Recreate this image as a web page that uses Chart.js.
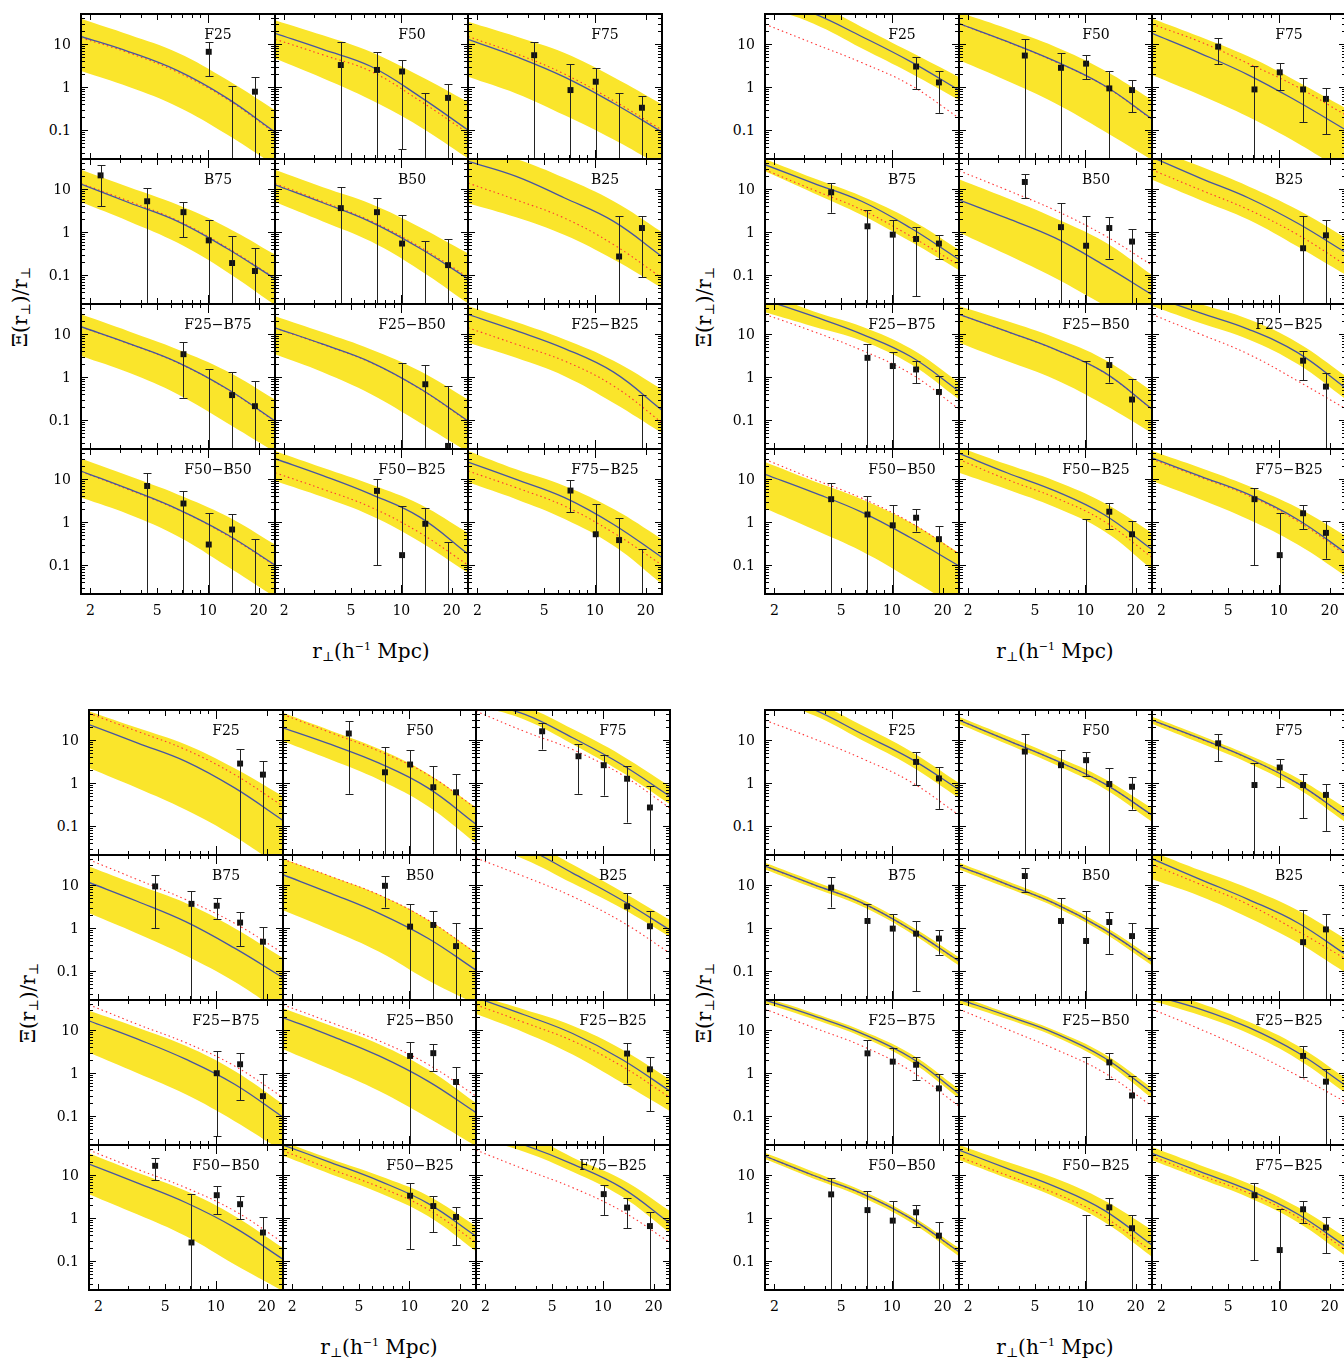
<!DOCTYPE html>
<html>
<head>
<meta charset="utf-8">
<script src="https://cdn.jsdelivr.net/npm/chart.js@4.4.1/dist/chart.umd.min.js"></script>
<style>
    body { margin: 0; background: #fff; width: 1344px; height: 1358px; overflow: hidden; position: relative; font-family: "DejaVu Serif", serif; color: #000; }
    canvas { position: absolute; }
    .moldura { position: absolute; border: 1px solid #000; box-sizing: content-box; pointer-events: none; }
    .tick { position: absolute; font-size: 14px; line-height: 14px; white-space: nowrap; }
    .titulo { position: absolute; font-size: 20px; line-height: 22px; white-space: nowrap; }
    .titulo sub { font-size: 65%; vertical-align: -3px; }
    .titulo sup { font-size: 55%; vertical-align: 8px; }
</style>
</head>
<body>
<script>
//*******DADOS*******
// x onde as curvas foram lidas (borda esquerda ... borda direita do painel)
var XS = [1.76, 3.4, 6.6, 12.9, 25];
var PAINEIS = ['F25', 'F50', 'F75', 'B75', 'B50', 'B25', 'F25\u2212B75', 'F25\u2212B50', 'F25\u2212B25', 'F50\u2212B50', 'F50\u2212B25', 'F75\u2212B25'];
var Y_TICKS = [0.1, 1, 10];
var Y_TICK_LABELS = ['0.1', '1', '10'];
var X_TICKS = [2, 5, 10, 20];
var X_TICK_LABELS = ['2', '5', '10', '20'];
var LO = 0.001; // barra de erro que passa do fundo do painel

// bloco superior esquerdo
var tlLinha = [
    [15, 6.6, 2.4, 0.56, 0.09], [17.7, 7.5, 3.0, 0.6, 0.1], [12.9, 5.1, 1.7, 0.42, 0.09],
    [13.1, 4.8, 1.77, 0.42, 0.082], [12.6, 4.8, 1.7, 0.42, 0.082], [44, 19.7, 6.2, 1.77, 0.27],
    [14.8, 6.0, 2.2, 0.54, 0.095], [14, 5.8, 2.2, 0.54, 0.095], [28.7, 12, 4.6, 1.3, 0.17],
    [15.4, 5.8, 2.0, 0.52, 0.1], [29.7, 12, 4.4, 1.3, 0.18], [24.8, 9.8, 3.7, 0.88, 0.15]
];
var tlPontilhado = [
    [14, 6.2, 2.2, 0.53, 0.085], [13, 5.6, 2.3, 0.48, 0.085], [15, 6, 2.0, 0.48, 0.1],
    [13.5, 5.2, 1.85, 0.44, 0.085], [13.5, 5.1, 1.8, 0.45, 0.09], [13.8, 5.6, 2.1, 0.51, 0.085],
    [14.6, 5.9, 2.15, 0.53, 0.093], [13.8, 5.7, 2.15, 0.53, 0.093], [14, 5.8, 2.35, 0.62, 0.087],
    [15, 5.6, 1.95, 0.5, 0.097], [14, 5.8, 2.2, 0.56, 0.1], [15.4, 6.3, 2.35, 0.56, 0.1]
];
var tlSuperior = [
    [39, 16.5, 6.3, 1.5, 0.29], [36, 16, 6.5, 1.8, 0.45], [33, 15, 6.2, 1.7, 0.4],
    [28, 11, 4.3, 1.3, 0.3], [28, 11, 4.5, 1.3, 0.32], [100, 50, 18, 5.2, 1.0],
    [28.7, 11.5, 4.4, 1.38, 0.3], [26, 11, 4.4, 1.38, 0.3], [45, 19, 7.5, 2.4, 0.52],
    [30, 11.7, 4.4, 1.38, 0.3], [45, 18.3, 7.5, 2.6, 0.56], [45, 16.8, 6.9, 2.0, 0.4]
];
var tlInferior = [
    [2.35, 1.0, 0.35, 0.08, 0.015], [4.6, 1.6, 0.5, 0.12, 0.022], [1.74, 0.71, 0.22, 0.06, 0.014],
    [5.0, 1.77, 0.56, 0.12, 0.02], [5.0, 1.77, 0.6, 0.13, 0.022], [4.7, 2.2, 0.85, 0.23, 0.05],
    [3.1, 1.26, 0.4, 0.087, 0.018], [3.4, 1.3, 0.4, 0.087, 0.018], [6.3, 2.8, 1.05, 0.25, 0.05],
    [3.7, 1.5, 0.47, 0.095, 0.018], [9, 3.8, 1.4, 0.35, 0.066], [8.4, 3.4, 1.17, 0.28, 0.036]
];
// [x, y, erro inferior, erro superior]; y nulo = ponto abaixo do painel
var tlPontos = [
    [[10.1, 6.6, 1.8, 11], [13.9, null, LO, 1.05], [19, 0.78, LO, 1.74]],
    [[4.35, 3.25, LO, 11.3], [7.15, 2.5, LO, 6.4], [10.1, 2.3, 0.036, 4.25], [13.9, null, LO, 0.71], [19, 0.56, LO, 1.17]],
    [[4.35, 5.5, LO, 11.3], [7.15, 0.85, LO, 3.4], [10.1, 1.33, LO, 2.7], [13.9, null, LO, 0.74], [19, 0.33, LO, 0.63]],
    [[2.3, 20.8, 4.0, 36.8], [4.35, 5.2, LO, 10.5], [7.15, 2.9, 0.75, 5.0], [10.1, 0.64, LO, 1.94], [13.9, 0.19, LO, 0.8], [19, 0.124, LO, 0.42]],
    [[4.35, 3.6, LO, 11.1], [7.15, 2.9, LO, 6.2], [10.1, 0.54, LO, 2.5], [13.9, null, LO, 0.63], [19, 0.17, LO, 0.69]],
    [[13.9, 0.27, LO, 2.4], [19, 1.24, 0.088, 2.3]],
    [[7.15, 3.4, 0.33, 6.5], [10.1, null, LO, 1.56], [13.9, 0.38, LO, 1.3], [19, 0.21, LO, 0.8]],
    [[10.1, null, LO, 2.1], [13.9, 0.68, LO, 1.9], [19, 0.025, LO, 0.62]],
    [[19, null, LO, 0.38]],
    [[4.35, 6.9, LO, 14], [7.15, 2.7, LO, 5.4], [10.1, 0.3, LO, 1.65], [13.9, 0.67, LO, 1.5], [19, null, LO, 0.41]],
    [[7.15, 5.3, 0.1, 9.8], [10.1, 0.17, LO, 2.35], [13.9, 0.91, LO, 2.1], [19, null, LO, 0.34]],
    [[7.15, 5.4, 1.7, 9.5], [10.1, 0.52, LO, 2.6], [13.9, 0.38, LO, 1.26], [19, null, LO, 0.24]]
];

// bloco superior direito
var trLinha = [
    [120, 52, 15, 3.9, 0.85], [30, 11.5, 4.0, 1.1, 0.18], [17.7, 6.1, 1.9, 0.46, 0.1],
    [36.8, 13.8, 5.2, 1.24, 0.23], [5.6, 2.1, 0.73, 0.17, 0.035], [55, 18, 6.2, 1.6, 0.33],
    [62, 26, 10.0, 3.0, 0.47], [28.7, 11.5, 4.4, 1.3, 0.18], [75, 31, 12.9, 3.7, 0.55],
    [12.9, 4.9, 1.7, 0.43, 0.095], [39.5, 14, 5.3, 1.5, 0.23], [31, 11.7, 4.4, 1.15, 0.19]
];
var trPontilhado = [
    [29, 10.4, 3.7, 1.1, 0.19], [29.5, 11.3, 3.9, 1.08, 0.175], [29, 11.3, 3.5, 1.0, 0.22],
    [28, 9.6, 3.3, 0.8, 0.17], [26.7, 9.5, 3.2, 0.85, 0.17], [28, 9.6, 3.3, 0.87, 0.17],
    [28.7, 11.5, 4.2, 1.2, 0.18], [28.5, 11.4, 4.35, 1.28, 0.178], [28.7, 10, 3.4, 0.81, 0.18],
    [28.7, 10, 3.6, 0.97, 0.18], [28.7, 9.8, 3.7, 1.05, 0.15], [29, 11, 4.1, 1.05, 0.17]
];
var trSuperior = [
    [230, 95, 25, 6.5, 1.7], [55, 23, 8.7, 2.5, 0.5], [39.5, 14.8, 5.1, 1.33, 0.32],
    [50, 18, 6.8, 1.94, 0.39], [17, 6.2, 2.1, 0.6, 0.1], [90, 33.7, 11.5, 3.3, 0.73],
    [95, 34, 15, 4.6, 0.75], [45, 20, 8.2, 2.6, 0.47], [110, 50, 22, 6.3, 1.05],
    [24.8, 9.0, 3.4, 0.97, 0.19], [55, 22, 9.0, 2.8, 0.56], [45, 18.4, 6.9, 2.15, 0.47]
];
var trInferior = [
    [75, 30, 8, 2.1, 0.5], [4.25, 1.4, 0.42, 0.095, 0.02], [1.9, 0.65, 0.2, 0.049, 0.01],
    [25.8, 8.1, 2.5, 0.6, 0.13], [0.98, 0.3, 0.085, 0.02, 0.005], [16.5, 5.6, 1.94, 0.46, 0.1],
    [32, 15, 7, 2.0, 0.3], [6.3, 2.35, 0.88, 0.23, 0.05], [45, 18, 7.5, 2.0, 0.3],
    [2.1, 0.68, 0.21, 0.047, 0.01], [14, 5.8, 2.2, 0.62, 0.08], [9.0, 3.4, 1.15, 0.3, 0.055]
];
var trPontos = [
    [[13.9, 3.0, 0.9, 5.1], [19, 1.28, 0.25, 2.3]],
    [[4.35, 5.4, LO, 13], [7.15, 2.8, LO, 6.1], [10.1, 3.5, 1.5, 5.5], [13.9, 0.93, LO, 2.3], [19, 0.85, 0.26, 1.45]],
    [[4.35, 8.7, 3.4, 13.5], [7.15, 0.88, LO, 3.1], [10.1, 2.2, 0.85, 3.7], [13.9, 0.88, 0.15, 1.65], [19, 0.53, 0.08, 0.97]],
    [[4.35, 8.4, 2.8, 13.8], [7.15, 1.36, LO, 3.2], [10.1, 0.87, LO, 1.94], [13.9, 0.69, 0.032, 1.3], [19, 0.54, 0.23, 0.84]],
    [[4.35, 14.6, 6.2, 22.7], [7.15, 1.3, LO, 4.7], [10.1, 0.48, LO, 2.3], [13.9, 1.24, 0.24, 2.2], [19, 0.6, LO, 1.17]],
    [[13.9, 0.42, LO, 2.4], [19, 0.84, LO, 1.87]],
    [[7.15, 2.8, LO, 6.0], [10.1, 1.8, LO, 3.8], [13.9, 1.5, 0.71, 2.35], [19, 0.45, LO, 1.04]],
    [[10.1, null, LO, 2.35], [13.9, 1.9, 0.74, 3.0], [19, 0.3, LO, 0.88]],
    [[13.9, 2.4, 0.84, 4.0], [19, 0.6, LO, 1.26]],
    [[4.35, 3.4, LO, 7.9], [7.15, 1.5, LO, 4.0], [10.1, 0.84, LO, 2.45], [13.9, 1.26, 0.6, 2.0], [19, 0.4, LO, 0.81]],
    [[10.1, null, LO, 1.15], [13.9, 1.74, 0.68, 2.8], [19, 0.52, LO, 1.07]],
    [[7.15, 3.4, 0.1, 6.3], [10.1, 0.17, LO, 1.6], [13.9, 1.6, 0.68, 2.5], [19, 0.56, 0.14, 1.05]]
];

// bloco inferior esquerdo
var blLinha = [
    [23, 8.6, 3.2, 0.77, 0.135], [19.3, 7.9, 2.9, 0.77, 0.11], [80, 40, 11.3, 2.7, 0.49],
    [11.5, 4.2, 1.41, 0.34, 0.07], [17.4, 6.4, 2.2, 0.58, 0.105], [180, 75, 19, 4.5, 0.9],
    [16.4, 6.2, 2.1, 0.55, 0.094], [19.6, 7.3, 2.5, 0.65, 0.12], [57, 22.7, 8.3, 2.1, 0.38],
    [18, 6.6, 2.3, 0.6, 0.11], [50, 19.5, 7.3, 2.2, 0.38], [110, 50, 18, 5.1, 0.75]
];
var blPontilhado = [
    [42, 16, 6.0, 1.57, 0.29], [39.5, 14.8, 5.5, 1.57, 0.26], [47, 16, 6.0, 1.57, 0.26],
    [38.8, 13.5, 4.6, 1.29, 0.26], [40, 15.8, 5.9, 1.54, 0.26], [42.5, 15.8, 5.4, 1.41, 0.26],
    [38.8, 13.7, 5.1, 1.46, 0.27], [38.8, 15, 5.6, 1.6, 0.29], [38.8, 15, 5.6, 1.46, 0.27],
    [38, 13.7, 5.1, 1.46, 0.27], [36.8, 13.7, 5.3, 1.6, 0.27], [38, 13.7, 5.1, 1.46, 0.27]
];
var blSuperior = [
    [47, 19.3, 7.9, 2.2, 0.49], [43, 16.5, 6.2, 1.65, 0.27], [130, 62, 18, 4.4, 0.84],
    [27, 10.1, 3.8, 0.99, 0.2], [41, 16, 6.0, 1.56, 0.27], [300, 120, 30, 7.1, 1.54],
    [28, 11.5, 4.3, 1.12, 0.19], [32, 12.6, 4.7, 1.22, 0.2], [65, 30, 12.6, 3.6, 0.71],
    [32, 11.5, 4.3, 1.12, 0.2], [60, 23.5, 9.6, 3.3, 0.65], [250, 100, 25.7, 8.0, 1.46]
];
var blInferior = [
    [2.25, 0.77, 0.24, 0.057, 0.01], [9.4, 3.5, 1.2, 0.29, 0.04], [65, 30, 8, 1.8, 0.32],
    [2.2, 0.75, 0.23, 0.056, 0.01], [2.6, 0.9, 0.28, 0.061, 0.017], [100, 40, 11, 2.9, 0.63],
    [3.0, 1.0, 0.32, 0.076, 0.015], [3.6, 1.22, 0.38, 0.091, 0.02], [23.5, 8.8, 2.7, 0.6, 0.13],
    [3.6, 1.22, 0.38, 0.083, 0.02], [28, 10.5, 3.9, 1.12, 0.17], [75, 35, 12, 3.2, 0.45]
];
var blPontos = [
    [[13.9, 2.84, LO, 6.2], [19, 1.57, LO, 3.2]],
    [[4.35, 14.2, 0.56, 27.6], [7.15, 1.78, LO, 6.8], [10.1, 2.7, LO, 5.8], [13.9, 0.8, LO, 2.45], [19, 0.61, LO, 1.63]],
    [[4.35, 16, 6.0, 25], [7.15, 4.2, 0.56, 7.9], [10.1, 2.6, 0.51, 4.6], [13.9, 1.26, 0.12, 2.45], [19, 0.27, LO, 0.84]],
    [[4.35, 9.3, 0.99, 17.4], [7.15, 3.65, LO, 7.3], [10.1, 3.3, 1.63, 5.1], [13.9, 1.34, 0.38, 2.3], [19, 0.48, LO, 1.07]],
    [[7.15, 9.6, 3.0, 16.4], [10.1, 1.08, LO, 3.65], [13.9, 1.18, LO, 2.5], [19, 0.38, LO, 1.29]],
    [[13.9, 3.2, LO, 6.5], [19, 1.1, LO, 2.55]],
    [[10.1, 0.99, 0.034, 3.2], [13.9, 1.6, 0.23, 3.0], [19, 0.29, LO, 0.93]],
    [[10.1, 2.5, LO, 5.3], [13.9, 2.9, 1.12, 4.7], [19, 0.62, LO, 1.39]],
    [[13.9, 2.84, 0.57, 4.9], [19, 1.22, 0.13, 2.37]],
    [[4.35, 16.4, 7.6, 24.8], [7.15, 0.27, LO, 3.6], [10.1, 3.4, 1.22, 5.6], [13.9, 2.1, 0.93, 3.3], [19, 0.46, LO, 1.06]],
    [[10.1, 3.3, 0.19, 6.4], [13.9, 1.9, 0.47, 3.3], [19, 1.06, 0.23, 1.85]],
    [[10.1, 3.6, 1.18, 5.9], [13.9, 1.75, 0.58, 2.9], [19, 0.65, LO, 1.41]]
];

// bloco inferior direito
var brLinha = [
    [125, 52, 14, 3.7, 0.7], [29, 10, 3.4, 0.98, 0.18], [29, 10.9, 3.75, 0.98, 0.165],
    [27.7, 10.4, 3.9, 0.93, 0.17], [27.7, 10.4, 3.7, 0.93, 0.17], [41, 13.6, 4.6, 1.33, 0.24],
    [50, 21.6, 8.4, 2.3, 0.33], [52, 21.6, 8.4, 2.3, 0.35], [65, 30.8, 11.5, 3.0, 0.51],
    [27.7, 9.9, 3.75, 0.98, 0.165], [38, 14.3, 5.4, 1.53, 0.235], [32, 12, 4.5, 1.24, 0.215]
];
var brPontilhado = [
    [29, 10.9, 3.75, 1.07, 0.18], [29, 10, 3.4, 0.98, 0.18], [28.5, 10.7, 3.7, 0.97, 0.163],
    [27.5, 10.3, 3.85, 0.92, 0.168], [27.5, 10.3, 3.65, 0.92, 0.168], [30, 10.4, 3.5, 0.85, 0.19],
    [30.8, 11.5, 4.3, 1.13, 0.17], [30.8, 10.5, 3.6, 1.03, 0.17], [30.8, 10.5, 3.3, 0.87, 0.21],
    [27.5, 9.8, 3.7, 0.97, 0.163], [26.7, 9.9, 3.75, 1.07, 0.165], [27, 10, 3.8, 1.05, 0.18]
];
var brSuperior = [
    [180, 80, 22, 5.5, 1.0], [35, 12.4, 4.25, 1.28, 0.26], [35, 13, 4.5, 1.3, 0.26],
    [33, 12.4, 4.6, 1.12, 0.21], [33, 12.4, 4.4, 1.12, 0.21], [60, 22, 8.4, 2.6, 0.55],
    [58, 25, 9.8, 2.8, 0.42], [62, 25, 9.8, 2.8, 0.45], [90, 42, 15.5, 4.3, 0.75],
    [33, 12, 4.4, 1.15, 0.2], [50, 20.4, 8.4, 2.6, 0.53], [45, 17, 6.4, 1.8, 0.35]
];
var brInferior = [
    [90, 38, 10, 2.5, 0.45], [23.6, 8.1, 2.7, 0.75, 0.126], [24, 8.5, 2.9, 0.75, 0.12],
    [23, 8.6, 3.2, 0.77, 0.135], [23, 8.6, 3.1, 0.77, 0.135], [13.6, 5.5, 1.74, 0.46, 0.09],
    [42, 18, 7, 1.85, 0.26], [42, 18, 7, 1.85, 0.26], [48, 22, 8.3, 2.1, 0.34],
    [23.5, 8.3, 3.1, 0.8, 0.13], [22.3, 8.4, 3.1, 0.82, 0.126], [22, 8.2, 3.0, 0.8, 0.13]
];
var brPontos = [
    [[13.9, 3.1, 0.9, 5.2], [19, 1.28, 0.25, 2.3]],
    [[4.35, 5.4, LO, 13.6], [7.15, 2.6, LO, 5.9], [10.1, 3.4, 1.46, 5.4], [13.9, 0.95, LO, 2.2], [19, 0.82, 0.24, 1.4]],
    [[4.35, 8.4, 3.25, 13.6], [7.15, 0.9, LO, 3.0], [10.1, 2.3, 0.8, 3.55], [13.9, 0.9, 0.15, 1.6], [19, 0.53, 0.077, 0.95]],
    [[4.35, 8.7, 3.0, 15.4], [7.15, 1.46, LO, 3.7], [10.1, 0.97, LO, 2.1], [13.9, 0.74, 0.034, 1.46], [19, 0.57, 0.24, 0.9]],
    [[4.35, 16.2, 7.0, 24.4], [7.15, 1.46, LO, 5.1], [10.1, 0.5, LO, 2.5], [13.9, 1.38, 0.25, 2.4], [19, 0.65, LO, 1.28]],
    [[13.9, 0.47, LO, 2.6], [19, 0.93, LO, 2.1]],
    [[7.15, 2.87, LO, 5.9], [10.1, 1.84, LO, 3.8], [13.9, 1.56, 0.69, 2.4], [19, 0.44, LO, 0.95]],
    [[10.1, null, LO, 2.3], [13.9, 1.77, 0.73, 2.9], [19, 0.3, LO, 0.87]],
    [[13.9, 2.5, 0.82, 4.2], [19, 0.63, LO, 1.24]],
    [[4.35, 3.55, LO, 8.4], [7.15, 1.53, LO, 4.25], [10.1, 0.87, LO, 2.5], [13.9, 1.36, 0.63, 2.0], [19, 0.39, LO, 0.81]],
    [[10.1, null, LO, 1.2], [13.9, 1.77, 0.69, 3.0], [19, 0.58, LO, 1.17]],
    [[7.15, 3.4, 0.105, 6.4], [10.1, 0.18, LO, 1.62], [13.9, 1.6, 0.75, 2.5], [19, 0.6, 0.15, 1.07]]
];

//*******LAYOUT E ESTILO*******
var BLOCOS = [
    { x: 81, y: 14, linha: tlLinha, pont: tlPontilhado, sup: tlSuperior, inf: tlInferior, pontos: tlPontos },
    { x: 765, y: 14, linha: trLinha, pont: trPontilhado, sup: trSuperior, inf: trInferior, pontos: trPontos },
    { x: 89, y: 710, linha: blLinha, pont: blPontilhado, sup: blSuperior, inf: blInferior, pontos: blPontos },
    { x: 765, y: 710, linha: brLinha, pont: brPontilhado, sup: brSuperior, inf: brInferior, pontos: brPontos }
];
var LARG = 193.5, ALT = 145;
var X_MIN = 1.76, X_MAX = 25, Y_MIN = 0.0212, Y_MAX = 50;
var AMARELO = '#fae52b';
var AZUL = '#4654a3';
var VERMELHO = '#ff3535';
var FONTE = '14px "DejaVu Serif"';

// marcas menores dos eixos
var Y_DECADAS = [0.01, 0.1, 1, 10];
var MULT = [2, 3, 4, 5, 6, 7, 8, 9];
var X_MENORES = [3, 4, 6, 7, 8, 9];
var X_MEDIOS = [2, 5, 20];
var X_MAIORES = [10];

//*******PLUGIN: barras de erro, marcas, moldura e rotulo*******
var molduraPlugin = {
    id: 'moldura',
    afterDatasetsDraw: function (chart) {
        var ctx = chart.ctx, a = chart.chartArea, sx = chart.scales.x, sy = chart.scales.y;
        var o = chart.options.plugins.moldura;
        ctx.save();
        ctx.beginPath();
        ctx.rect(a.left, a.top, a.right - a.left, a.bottom - a.top);
        ctx.clip();
        ctx.strokeStyle = '#222';
        ctx.lineWidth = 1;
        ctx.beginPath();
        o.pontos.forEach(function (p) {
            var px = Math.round(sx.getPixelForValue(p[0])) + 0.5;
            var yl = sy.getPixelForValue(p[2]);
            var yh = Math.round(sy.getPixelForValue(p[3])) + 0.5;
            ctx.moveTo(px, yl);
            ctx.lineTo(px, yh);
            ctx.moveTo(px - 4, yh);
            ctx.lineTo(px + 4, yh);
            if (p[2] > LO) {
                var yc = Math.round(yl) + 0.5;
                ctx.moveTo(px - 4, yc);
                ctx.lineTo(px + 4, yc);
            }
        });
        ctx.stroke();
        ctx.restore();
    },
    afterDraw: function (chart) {
        var ctx = chart.ctx, a = chart.chartArea, sx = chart.scales.x, sy = chart.scales.y;
        var o = chart.options.plugins.moldura;
        ctx.save();
        ctx.strokeStyle = '#000';
        ctx.lineWidth = 1;
        ctx.beginPath();

        function marcaY(v, len) {
            var py = Math.round(sy.getPixelForValue(v)) + 0.5;
            if (py < a.top || py > a.bottom) return;
            ctx.moveTo(a.left, py); ctx.lineTo(a.left + len, py);
            ctx.moveTo(a.right, py); ctx.lineTo(a.right - len, py);
        }
        function marcaX(v, len) {
            var px = Math.round(sx.getPixelForValue(v)) + 0.5;
            ctx.moveTo(px, a.top); ctx.lineTo(px, a.top + len);
            ctx.moveTo(px, a.bottom); ctx.lineTo(px, a.bottom - len);
        }

        Y_DECADAS.forEach(function (d) {
            MULT.forEach(function (m) { marcaY(d * m, 4); });
        });
        Y_TICKS.forEach(function (v) { marcaY(v, 7); });
        X_MENORES.forEach(function (v) { marcaX(v, 4); });
        X_MEDIOS.forEach(function (v) { marcaX(v, 6); });
        X_MAIORES.forEach(function (v) { marcaX(v, 9); });
        ctx.stroke();

        ctx.strokeRect(a.left + 0.5, a.top + 0.5, a.right - a.left - 1, a.bottom - a.top - 1);

        ctx.fillStyle = '#000';
        ctx.font = FONTE;
        ctx.textAlign = 'center';
        ctx.textBaseline = 'middle';
        ctx.fillText(o.nome, a.left + 137, a.top + 21);
        ctx.restore();
    }
};

//*******MÉTODOS*******
function Serie(valores) {
    return valores.map(function (v, i) { return { x: XS[i], y: v }; });
}

function CriarPainel(bloco, idx) {
    var col = idx % 3, lin = Math.floor(idx / 3);
    var esq = Math.round(bloco.x + col * LARG);
    var dir = Math.round(bloco.x + (col + 1) * LARG);
    var topo = Math.round(bloco.y + lin * ALT);
    var base = Math.round(bloco.y + (lin + 1) * ALT);

    var canvas = document.createElement('canvas');
    canvas.width = dir - esq;
    canvas.height = base - topo;
    canvas.style.left = esq + 'px';
    canvas.style.top = topo + 'px';
    document.body.appendChild(canvas);

    var pontos = bloco.pontos[idx];
    var visiveis = pontos.filter(function (p) { return p[1] !== null; })
        .map(function (p) { return { x: p[0], y: p[1] }; });

    // curvas suaves (bezier do proprio Chart.js)
    var curva = { pointRadius: 0, fill: false, tension: 0.4 };

    var chart = new Chart(canvas, {
        type: 'line',
        data: {
            datasets: [
                Object.assign({}, curva, { data: Serie(bloco.sup[idx]), borderWidth: 0, fill: '+1', backgroundColor: AMARELO, order: 10 }),
                Object.assign({}, curva, { data: Serie(bloco.inf[idx]), borderWidth: 0, order: 9 }),
                Object.assign({}, curva, { data: Serie(bloco.pont[idx]), borderColor: VERMELHO, borderWidth: 1.1, borderDash: [1.5, 3], order: 3 }),
                Object.assign({}, curva, { data: Serie(bloco.linha[idx]), borderColor: AZUL, borderWidth: 1.3, order: 2 }),
                { type: 'scatter', data: visiveis, pointStyle: 'rect', pointRadius: 4.2, backgroundColor: '#111', borderWidth: 0, order: 1 }
            ]
        },
        options: {
            responsive: false,
            animation: false,
            events: [],
            layout: { padding: 0, autoPadding: false },
            scales: {
                x: { type: 'logarithmic', min: X_MIN, max: X_MAX, display: false },
                y: { type: 'logarithmic', min: Y_MIN, max: Y_MAX, display: false }
            },
            plugins: {
                legend: { display: false },
                tooltip: { enabled: false },
                moldura: { nome: PAINEIS[idx], pontos: pontos }
            }
        },
        plugins: [molduraPlugin]
    });
    return { chart: chart, esq: esq, topo: topo, base: base };
}

function Texto(html, cls, estilo) {
    var div = document.createElement('div');
    div.className = cls;
    div.innerHTML = html;
    Object.keys(estilo).forEach(function (k) { div.style[k] = estilo[k]; });
    document.body.appendChild(div);
    return div;
}

function CriarBloco(bloco) {
    var paineis = [];
    for (var i = 0; i < 12; i++) paineis.push(CriarPainel(bloco, i));

    var w = Math.round(bloco.x + 3 * LARG) - Math.round(bloco.x);
    var h = Math.round(bloco.y + 4 * ALT) - Math.round(bloco.y);
    Texto('', 'moldura', { left: (Math.round(bloco.x) - 1) + 'px', top: (Math.round(bloco.y) - 1) + 'px', width: w + 'px', height: h + 'px' });

    // rotulos do eixo y (primeira coluna de cada linha)
    for (var lin = 0; lin < 4; lin++) {
        var p = paineis[lin * 3];
        Y_TICKS.forEach(function (v, k) {
            var py = p.topo + p.chart.scales.y.getPixelForValue(v);
            Texto(Y_TICK_LABELS[k], 'tick', { right: (1344 - (bloco.x - 10)) + 'px', top: (py - 7) + 'px' });
        });
    }
    // rotulos do eixo x (linha de baixo)
    for (var col = 0; col < 3; col++) {
        var q = paineis[9 + col];
        X_TICKS.forEach(function (v, k) {
            var px = q.esq + q.chart.scales.x.getPixelForValue(v);
            Texto(X_TICK_LABELS[k], 'tick', { left: (px - 20) + 'px', width: '40px', textAlign: 'center', top: (q.base + 9) + 'px' });
        });
    }

    var baseBloco = paineis[9].base;
    Texto('r<sub>\u22a5</sub>(h<sup>\u22121</sup> Mpc)', 'titulo', { left: (bloco.x + 290 - 100) + 'px', width: '200px', textAlign: 'center', top: (baseBloco + 42) + 'px' });
    Texto('\u039e(r<sub>\u22a5</sub>)/r<sub>\u22a5</sub>', 'titulo', {
        left: (bloco.x - 58 - 60) + 'px', width: '120px', textAlign: 'center',
        top: (bloco.y + 290 - 11) + 'px', transform: 'rotate(-90deg)'
    });
}

BLOCOS.forEach(CriarBloco);
</script>
</body>
</html>
